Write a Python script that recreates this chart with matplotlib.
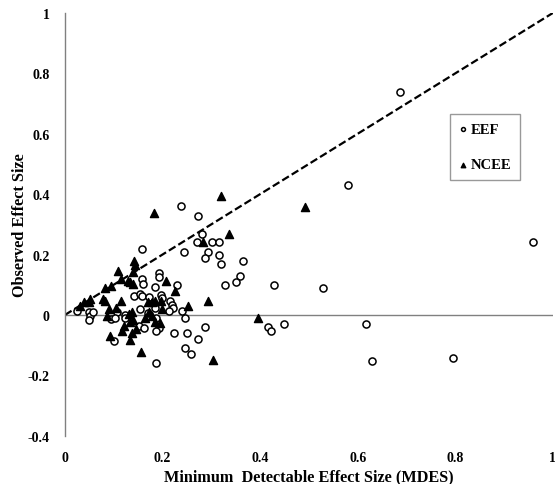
import numpy as np
import matplotlib.pyplot as plt

plt.rcParams['font.family'] = ['Liberation Serif', 'DejaVu Serif']

# EEF trials (open circles): MDES, observed effect size
eef_x = [0.687, 0.580, 0.960, 0.530, 0.617, 0.630, 0.795,
         0.358, 0.350, 0.329, 0.429, 0.246, 0.416, 0.422, 0.450, 0.287, 0.251, 0.272, 0.246, 0.259,
         0.272, 0.280, 0.271, 0.302, 0.315, 0.293, 0.288, 0.315, 0.320, 0.366,
         0.237, 0.158, 0.244, 0.193,
         0.193, 0.158, 0.160, 0.229, 0.185, 0.141, 0.153, 0.158, 0.172, 0.197, 0.199, 0.215,
         0.220, 0.222, 0.185, 0.213, 0.240, 0.025, 0.049, 0.051, 0.049, 0.057, 0.107, 0.094,
         0.102, 0.123, 0.153, 0.124, 0.170, 0.187, 0.151, 0.163, 0.192, 0.187, 0.100, 0.187,
         0.223]
eef_y = [0.737, 0.430, 0.240, 0.089, -0.031, -0.151, -0.142,
         0.130, 0.110, 0.098, 0.098, -0.010, -0.039, -0.052, -0.030, -0.041, -0.060, -0.081, -0.109, -0.130,
         0.329, 0.268, 0.240, 0.240, 0.240, 0.210, 0.190, 0.199, 0.169, 0.180,
         0.360, 0.217, 0.210, 0.139,
         0.125, 0.119, 0.103, 0.100, 0.092, 0.064, 0.070, 0.064, 0.059, 0.066, 0.055, 0.047,
         0.033, 0.022, 0.022, 0.014, 0.012, 0.014, 0.011, -0.002, -0.016, 0.011, 0.009, -0.013,
         -0.010, 0.000, 0.020, -0.011, 0.006, -0.009, -0.037, -0.044, -0.044, -0.054, -0.088, -0.159,
         -0.060]

# NCEE trials (filled triangles)
ncee_x = [0.492, 0.293, 0.253, 0.396, 0.304, 0.319, 0.336, 0.283,
          0.182, 0.141, 0.143, 0.108, 0.140, 0.114, 0.129, 0.134, 0.139, 0.207, 0.094, 0.083,
          0.225, 0.052, 0.050, 0.079, 0.082, 0.114, 0.170, 0.179, 0.185, 0.197, 0.199, 0.031,
          0.040, 0.091, 0.105, 0.131, 0.138, 0.140, 0.134, 0.165, 0.173, 0.179, 0.184, 0.121,
          0.117, 0.194, 0.138, 0.092, 0.134, 0.156, 0.086, 0.146]
ncee_y = [0.359, 0.047, 0.031, -0.011, -0.149, 0.395, 0.268, 0.242,
          0.337, 0.178, 0.167, 0.147, 0.141, 0.119, 0.114, 0.108, 0.103, 0.114, 0.097, 0.089,
          0.080, 0.053, 0.042, 0.053, 0.047, 0.047, 0.044, 0.042, 0.047, 0.045, 0.020, 0.031,
          0.042, 0.020, 0.022, 0.003, 0.009, -0.017, -0.024, -0.011, 0.011, -0.002, -0.024, -0.037,
          -0.052, -0.026, -0.060, -0.069, -0.082, -0.122, -0.002, -0.046]

fig = plt.figure(figsize=(5.55, 4.85), dpi=100)
ax = fig.add_axes([0.117, 0.0996, 0.879, 0.8715])

ax.plot([0, 1], [0, 1], color='black', linestyle=(0, (3.5, 1.5)), linewidth=1.6, zorder=1)
ax.axhline(0, color='#808080', linewidth=1.0, zorder=0)

ax.scatter(eef_x, eef_y, s=26, facecolors='white', edgecolors='black', linewidths=1.1,
           marker='o', label='EEF', zorder=2)
ax.scatter(ncee_x, ncee_y, s=34, color='black', marker='^', label='NCEE', zorder=3)

ax.set_xlim(0, 1)
ax.set_ylim(-0.4, 1)
ax.set_xticks([0, 0.2, 0.4, 0.6, 0.8, 1])
ax.set_xticklabels(['0', '0.2', '0.4', '0.6', '0.8', '1'])
ax.set_yticks([-0.4, -0.2, 0, 0.2, 0.4, 0.6, 0.8, 1])
ax.set_yticklabels(['-0.4', '-0.2', '0', '0.2', '0.4', '0.6', '0.8', '1'])
ax.tick_params(length=0, labelsize=10, pad=11)
for lab in ax.get_xticklabels() + ax.get_yticklabels():
    lab.set_fontweight('bold')

for s in ['top', 'right', 'bottom']:
    ax.spines[s].set_visible(False)
ax.spines['left'].set_color('#808080')
ax.spines['left'].set_linewidth(1.0)

ax.set_xlabel('Minimum  Detectable Effect Size (MDES)', fontsize=11.7, fontweight='bold', labelpad=3)
ax.set_ylabel('Observed Effect Size', fontsize=11.7, fontweight='bold', labelpad=0)

leg = ax.legend(loc='upper left', bbox_to_anchor=(0.789, 0.761), frameon=True, fancybox=False,
                edgecolor='#808080', markerscale=0.55, labelspacing=1.5, handletextpad=0.3,
                handlelength=0.5, borderpad=0.62, borderaxespad=0.0,
                prop={'weight': 'bold', 'size': 10.5})
leg.get_frame().set_linewidth(1.0)

fig.savefig('out.png', dpi=100)
